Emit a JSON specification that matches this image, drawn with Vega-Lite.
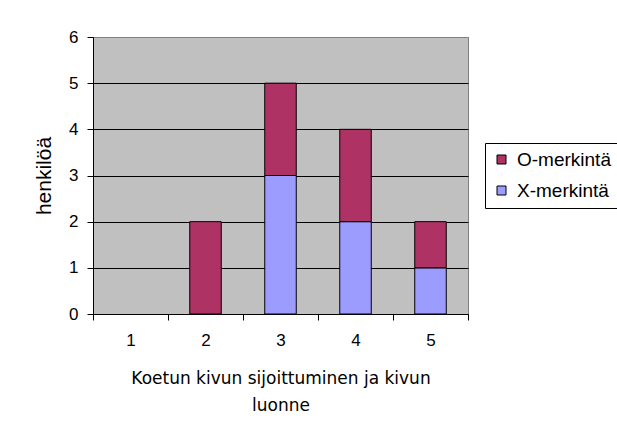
{
  "$schema": "https://vega.github.io/schema/vega-lite/v6.json",
  "width": 375,
  "height": 277,
  "autosize": {"type": "none"},
  "padding": {"left": 93, "top": 37, "right": 149, "bottom": 122},
  "background": "white",
  "config": {
    "font": "Liberation Sans",
    "view": {"fill": "#C0C0C0", "stroke": "#808080", "strokeWidth": 1}
  },
  "data": {
    "values": [
      {"kohta": 1, "merkinta": "X-merkintä", "henkiloa": 0},
      {"kohta": 1, "merkinta": "O-merkintä", "henkiloa": 0},
      {"kohta": 2, "merkinta": "X-merkintä", "henkiloa": 0},
      {"kohta": 2, "merkinta": "O-merkintä", "henkiloa": 2},
      {"kohta": 3, "merkinta": "X-merkintä", "henkiloa": 3},
      {"kohta": 3, "merkinta": "O-merkintä", "henkiloa": 2},
      {"kohta": 4, "merkinta": "X-merkintä", "henkiloa": 2},
      {"kohta": 4, "merkinta": "O-merkintä", "henkiloa": 2},
      {"kohta": 5, "merkinta": "X-merkintä", "henkiloa": 1},
      {"kohta": 5, "merkinta": "O-merkintä", "henkiloa": 1}
    ]
  },
  "transform": [{"filter": "datum.henkiloa > 0"}],
  "mark": {"type": "bar", "width": {"band": 0.42}, "stroke": "black", "strokeWidth": 1},
  "encoding": {
    "x": {
      "field": "kohta",
      "type": "ordinal",
      "scale": {"domain": [1, 2, 3, 4, 5], "paddingInner": 0, "paddingOuter": 0},
      "axis": {
        "title": ["Koetun kivun sijoittuminen ja kivun", "luonne"],
        "titleFont": "DejaVu Sans",
        "titleFontSize": 17,
        "titleFontWeight": "normal",
        "titleColor": "black",
        "titleLineHeight": 27,
        "titlePadding": 22,
        "labelAngle": 0,
        "labelFontSize": 17,
        "labelColor": "black",
        "labelPadding": 12,
        "tickBand": "extent",
        "tickSize": 6,
        "tickColor": "black",
        "domainColor": "black",
        "grid": false
      }
    },
    "y": {
      "field": "henkiloa",
      "type": "quantitative",
      "stack": "zero",
      "scale": {"domain": [0, 6], "nice": false},
      "axis": {
        "title": "henkilöä",
        "titleFontSize": 21,
        "titleFontWeight": "normal",
        "titleColor": "black",
        "titlePadding": 14,
        "values": [0, 1, 2, 3, 4, 5, 6],
        "labelFontSize": 17,
        "labelColor": "black",
        "labelPadding": 9,
        "tickSize": 6,
        "tickColor": "black",
        "domainColor": "black",
        "grid": true,
        "gridColor": {"condition": {"test": "datum.value == 6", "value": "#808080"}, "value": "black"},
        "gridOpacity": 1
      }
    },
    "color": {
      "field": "merkinta",
      "type": "nominal",
      "scale": {"domain": ["O-merkintä", "X-merkintä"], "range": ["#AE3364", "#9C9CFF"]},
      "legend": {
        "title": null,
        "orient": "none",
        "legendX": 392,
        "legendY": 106,
        "strokeColor": "black",
        "fillColor": "white",
        "padding": 7,
        "symbolType": "square",
        "symbolSize": 81,
        "symbolStrokeColor": "black",
        "symbolStrokeWidth": 1,
        "symbolOpacity": 1,
        "labelFontSize": 19,
        "labelColor": "black",
        "labelOffset": 6,
        "rowPadding": 11
      }
    },
    "order": {"field": "merkinta", "sort": "descending"}
  }
}
